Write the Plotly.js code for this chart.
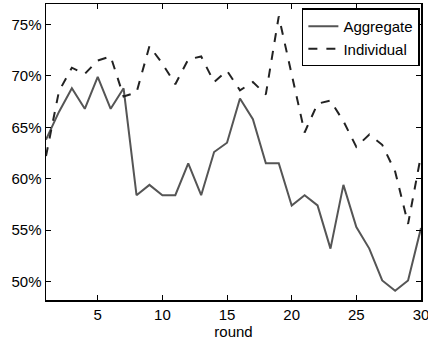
<!DOCTYPE html>
<html><head><meta charset="utf-8">
<script src="https://cdn.plot.ly/plotly-3.0.1.min.js"></script>
<style>html,body{margin:0;padding:0;background:#fff}#chart{width:428px;height:344px}</style>
</head><body><div id="chart"></div>
<script>
const rounds = [1,2,3,4,5,6,7,8,9,10,11,12,13,14,15,16,17,18,19,20,21,22,23,24,25,26,27,28,29,30];
const aggregate = [63.8,66.5,68.8,66.8,69.9,66.8,68.8,58.4,59.4,58.4,58.4,61.5,58.4,62.6,63.5,67.8,65.8,61.5,61.5,57.4,58.4,57.4,53.2,59.4,55.3,53.2,50.1,49.1,50.1,55.2];
const individual = [62.2,68.5,70.8,70.2,71.5,71.9,68.0,68.4,72.9,71.2,69.2,71.6,71.9,69.4,70.5,68.6,69.4,68.2,75.8,70.3,64.5,67.3,67.6,65.6,63.1,64.3,63.3,60.7,55.6,62.3];
const yTicks = [50,55,60,65,70,75];
const yTickText = yTicks.map(v => v + '%');
const xTicks = [5,10,15,20,25,30];

const font = {family: 'Liberation Sans, Arial, sans-serif', size: 15, color: '#000'};
Plotly.newPlot('chart', [
  {x: rounds, y: aggregate, name: 'Aggregate', mode: 'lines', line: {color: '#555555', width: 2}},
  {x: rounds, y: individual, name: 'Individual', mode: 'lines', line: {color: '#222222', width: 2, dash: 'dash'}}
], {
  width: 428, height: 344,
  margin: {l: 46, r: 7, t: 4, b: 44},
  paper_bgcolor: '#fff', plot_bgcolor: '#fff',
  font: font,
  showlegend: true,
  legend: {x: 0.997, y: 0.985, xanchor: 'right', yanchor: 'top', bordercolor: '#000', borderwidth: 1.5, bgcolor: '#fff', font: {family: font.family, size: 15, color: '#000'}, tracegroupgap: 0, itemwidth: 30},
  xaxis: {range: [1, 30], tickvals: xTicks, ticklabeloverflow: 'allow', ticks: 'inside', ticklen: 5, tickcolor: '#000', showline: true, linecolor: '#000', linewidth: 1.5, mirror: 'ticks', showgrid: false, zeroline: false, title: {text: 'round', font: font, standoff: 0}},
  yaxis: {range: [48.2, 77.0], tickvals: yTicks, ticktext: yTickText, ticks: 'inside', ticklen: 5, tickcolor: '#000', showline: true, linecolor: '#000', linewidth: 1.5, mirror: 'ticks', showgrid: false, zeroline: false}
}, {displayModeBar: false, staticPlot: true});
</script></body></html>
